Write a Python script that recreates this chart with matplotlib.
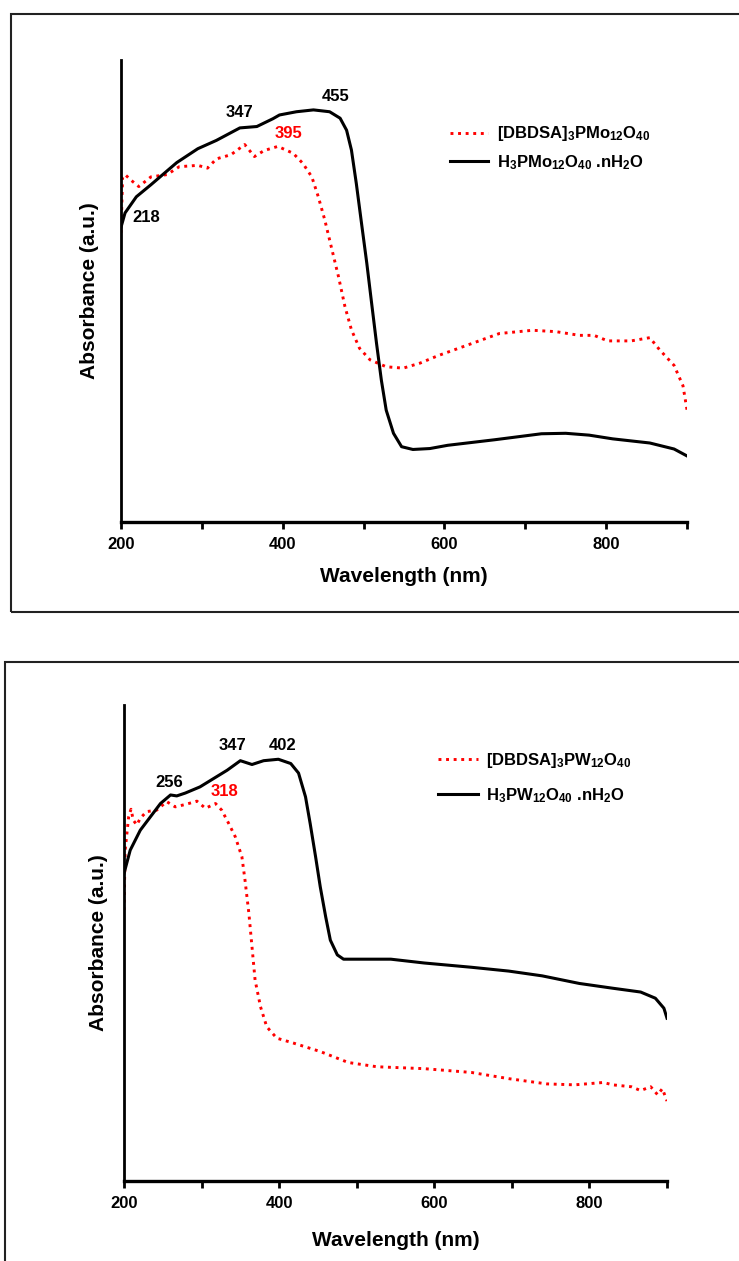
import matplotlib
matplotlib.use('Agg')
from matplotlib import pyplot as plt
from matplotlib.patches import Rectangle

# フォント設定
plt.rcParams['font.family'] = ['Liberation Sans', 'DejaVu Sans']
plt.rcParams['mathtext.fontset'] = 'custom'
plt.rcParams['mathtext.rm'] = 'Liberation Sans:bold'
plt.rcParams['mathtext.it'] = 'Liberation Sans:bold:italic'
plt.rcParams['mathtext.bf'] = 'Liberation Sans:bold'

# 上のパネル: H3PMo12O40.nH2O (黒)
top_black_wl = [200, 205, 219, 237, 269, 295, 318, 347, 368, 388, 396, 417, 438, 458, 471, 479,
                485, 491, 497.5, 504, 510, 516, 522, 528, 537, 547, 561, 582, 604, 662, 720,
                750, 779, 808, 854, 884, 900]
top_black_abs = [0.638, 0.669, 0.704, 0.730, 0.778, 0.808, 0.826, 0.853, 0.856, 0.873, 0.881,
                 0.888, 0.892, 0.888, 0.874, 0.848, 0.805, 0.733, 0.646, 0.560, 0.473, 0.387,
                 0.307, 0.242, 0.192, 0.163, 0.157, 0.159, 0.166, 0.178, 0.191, 0.192, 0.188,
                 0.180, 0.171, 0.158, 0.143]

# 上のパネル: [DBDSA]3PMo12O40 (赤)
top_red_wl = [200, 202, 205, 213, 222, 237, 257, 272, 295, 307, 318, 336, 353, 365, 377, 394,
              413, 425, 436, 444, 452, 460, 469, 477, 485, 495, 508, 528, 549, 570, 592, 627,
              668, 709, 738, 767, 785, 802, 831, 854, 866, 884, 895, 900]
top_red_abs = [0.626, 0.747, 0.752, 0.739, 0.726, 0.747, 0.752, 0.769, 0.772, 0.766, 0.786, 0.795,
               0.817, 0.791, 0.804, 0.813, 0.798, 0.776, 0.747, 0.704, 0.654, 0.596, 0.531,
               0.466, 0.416, 0.376, 0.351, 0.336, 0.333, 0.344, 0.360, 0.382, 0.408, 0.415,
               0.412, 0.404, 0.404, 0.392, 0.392, 0.399, 0.373, 0.339, 0.295, 0.243]

# 下のパネル: H3PW12O40.nH2O (黒)
bot_black_wl = [200, 208, 221, 234, 247, 260, 268, 279, 298, 316, 333, 350, 365, 380, 399, 415,
                425, 434, 440, 447, 453, 460, 466, 475, 483, 526, 544, 587, 648, 696, 739, 787,
                830, 866, 885, 896, 900]
bot_black_abs = [0.646, 0.695, 0.737, 0.765, 0.793, 0.811, 0.809, 0.815, 0.828, 0.846, 0.863,
                 0.883, 0.875, 0.883, 0.886, 0.877, 0.857, 0.807, 0.751, 0.681, 0.618, 0.555,
                 0.506, 0.475, 0.466, 0.466, 0.466, 0.458, 0.449, 0.441, 0.431, 0.415, 0.405,
                 0.397, 0.384, 0.363, 0.342]

# 下のパネル: [DBDSA]3PW12O40 (赤)
bot_red_wl = [200, 201.5, 206, 209, 212, 216.5, 221, 229, 242, 255, 266, 279, 294, 305, 318, 326,
              335, 343.5, 352, 356, 361, 365, 369, 376, 384, 397, 416, 453, 489, 526, 587, 648,
              696, 745, 781, 818, 830, 854, 866, 879, 888, 894, 900]
bot_red_abs = [0.569, 0.695, 0.765, 0.781, 0.758, 0.748, 0.762, 0.776, 0.779, 0.797, 0.786, 0.791,
               0.798, 0.783, 0.793, 0.779, 0.751, 0.723, 0.681, 0.632, 0.562, 0.492, 0.422,
               0.366, 0.324, 0.300, 0.291, 0.272, 0.249, 0.240, 0.236, 0.228, 0.215, 0.204,
               0.202, 0.207, 0.202, 0.198, 0.190, 0.198, 0.181, 0.194, 0.168]

# ピークのラベル (文字, 波長, 値, 色)
top_notes = [('218', 231, 0.660, 'black'), ('347', 346, 0.886, 'black'),
             ('455', 465, 0.921, 'black'), ('395', 407, 0.840, 'red')]
bot_notes = [('256', 258, 0.838, 'black'), ('347', 340, 0.915, 'black'),
             ('402', 405, 0.915, 'black'), ('318', 330, 0.819, 'red')]

top_labels = ['[DBDSA]$_3$PMo$_{12}$O$_{40}$', 'H$_3$PMo$_{12}$O$_{40}$ .nH$_2$O']
bot_labels = ['[DBDSA]$_3$PW$_{12}$O$_{40}$', 'H$_3$PW$_{12}$O$_{40}$ .nH$_2$O']

W, H = 739, 1261


# ピクセル座標から figure 座標へ
def fx(px):
    return px / W


def fy(py):
    return 1 - py / H


# 1つのパネルを描く
def draw_panel(fig, box, red, black, notes, labels, leg, lab_off):
    left, top, right, bottom = box
    ax = fig.add_axes([fx(left), fy(bottom), fx(right) - fx(left), fy(top) - fy(bottom)])

    ax.plot(red[0], red[1], color='red', lw=2.1, ls=(0, (1, 1.6)), label=labels[0])
    ax.plot(black[0], black[1], color='black', lw=2.2, label=labels[1])

    for txt, x, y, c in notes:
        ax.text(x, y, txt, color=c, fontsize=12, fontweight='bold', ha='center', va='center')

    # 軸の見た目
    ax.set_xlim(200, 900)
    ax.set_ylim(0, 1)
    for s in ['top', 'right']:
        ax.spines[s].set_visible(False)
    ax.spines['left'].set_linewidth(2.0)
    ax.spines['bottom'].set_linewidth(2.4)
    ax.set_yticks([])
    ax.set_xticks([200, 400, 600, 800])
    ax.set_xticks([300, 500, 700, 900], minor=True)
    ax.tick_params(axis='x', which='both', direction='out', length=5, width=2.0, pad=6,
                   labelsize=12)
    for t in ax.get_xticklabels():
        t.set_fontweight('bold')
    ax.set_xlabel('Wavelength (nm)', fontsize=15, fontweight='bold')
    ax.set_ylabel('Absorbance (a.u.)', fontsize=15, fontweight='bold')
    h = bottom - top
    w = right - left
    ax.xaxis.set_label_coords(0.5, -lab_off[0] / h)
    ax.yaxis.set_label_coords(-lab_off[1] / w, 0.5)

    # 凡例
    lx, ly, hl, sp = leg
    ax.legend(loc='center left', bbox_to_anchor=(fx(lx), fy(ly)), bbox_transform=fig.transFigure,
              frameon=False, prop={'size': 12, 'weight': 'bold'}, handlelength=hl,
              handletextpad=0.5, labelspacing=sp, borderpad=0, borderaxespad=0)
    return ax


def main():
    fig = plt.figure(figsize=(W / 100, H / 100), dpi=100)
    fig.patch.set_facecolor('white')

    # 外枠
    fig.patches.append(Rectangle((fx(11), fy(612)), 1.0, fy(14) - fy(612), transform=fig.transFigure,
                                 fill=False, lw=1.5, ec='#222222'))
    fig.patches.append(Rectangle((fx(5), fy(1270)), 1.0, fy(662) - fy(1270), transform=fig.transFigure,
                                 fill=False, lw=1.5, ec='#222222'))

    draw_panel(fig, (121, 60, 687, 522), (top_red_wl, top_red_abs), (top_black_wl, top_black_abs),
               top_notes, top_labels, (450, 148, 2.3, 0.56), (45, 22))
    draw_panel(fig, (124, 705, 667, 1181), (bot_red_wl, bot_red_abs), (bot_black_wl, bot_black_abs),
               bot_notes, bot_labels, (438, 778, 2.4, 0.98), (50, 16))

    fig.savefig('out.png', dpi=100, facecolor='white')


if __name__ == "__main__":
    main()
